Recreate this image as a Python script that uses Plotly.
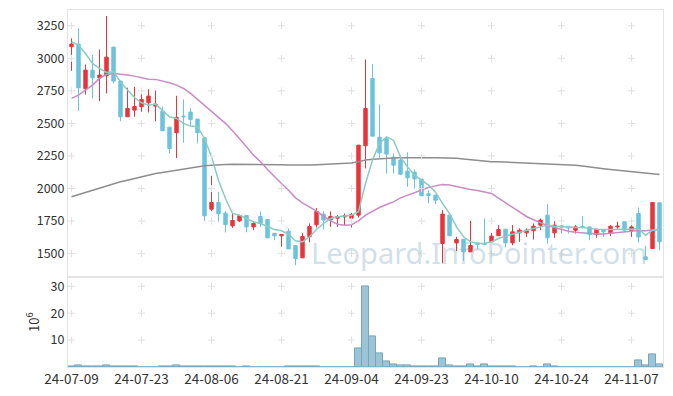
import plotly.graph_objects as go
import pandas as pd

# ---- data ----
dates = list(pd.bdate_range("2024-07-09", "2024-11-13").strftime("%Y-%m-%d"))
holidays = ["2024-08-15", "2024-09-16", "2024-09-17", "2024-09-18",
            "2024-10-01", "2024-10-03", "2024-10-09"]
dates = [d for d in dates if d not in holidays]

open_ = [3089, 3109, 2766, 2909, 2850, 2866, 3086, 2825, 2551, 2602,
         2628, 2658, 2633, 2594, 2471, 2428, 2556, 2587, 2533, 2389,
         1841, 1892, 1810, 1713, 1751, 1792, 1705, 1785, 1762, 1656,
         1636, 1672, 1562, 1467, 1629, 1721, 1803, 1759, 1772, 1782,
         1772, 1795, 2328, 2845, 2394, 2382, 2241, 2218, 2133, 2126,
         2072, 1959, 1949, 1577, 1795, 1582, 1610, 1513, 1582, 1580,
         1590, 1637, 1687, 1582, 1659, 1659, 1675, 1718, 1795, 1659,
         1713, 1705, 1680, 1710, 1705, 1646, 1685, 1659, 1705, 1744,
         1675, 1808, 1475, 1539, 1890]
high = [3153, 3230, 2953, 3025, 3068, 3324, 3086, 2825, 2774, 2781,
        2768, 2763, 2753, 2628, 2471, 2712, 2684, 2615, 2533, 2389,
        2097, 1974, 1826, 1803, 1798, 1792, 1741, 1823, 1762, 1656,
        1646, 1693, 1562, 1659, 1731, 1849, 1826, 1823, 1795, 1808,
        1813, 2333, 2991, 2955, 2645, 2397, 2269, 2244, 2277, 2146,
        2072, 1987, 1949, 1833, 1795, 1629, 1610, 1751, 1582, 1769,
        1659, 1718, 1687, 1718, 1693, 1693, 1731, 1769, 1880, 1749,
        1718, 1705, 1718, 1787, 1705, 1687, 1685, 1718, 1744, 1744,
        1718, 1854, 1560, 1892, 1890]
low = [2904, 2594, 2722, 2692, 2671, 2730, 2807, 2517, 2551, 2551,
       2589, 2584, 2517, 2443, 2269, 2233, 2351, 2487, 2346, 1751,
       1826, 1744, 1662, 1698, 1741, 1664, 1680, 1705, 1621, 1603,
       1552, 1536, 1411, 1467, 1587, 1700, 1685, 1705, 1705, 1718,
       1700, 1777, 2154, 2402, 2230, 2115, 2115, 2102, 2013, 2000,
       1944, 1885, 1880, 1424, 1636, 1518, 1444, 1513, 1531, 1572,
       1590, 1637, 1547, 1564, 1590, 1628, 1608, 1680, 1577, 1621,
       1654, 1654, 1654, 1693, 1603, 1621, 1628, 1634, 1685, 1667,
       1628, 1585, 1449, 1539, 1526]
close = [3109, 2774, 2909, 2850, 2871, 3009, 2825, 2551, 2615, 2630,
         2684, 2710, 2648, 2443, 2307, 2546, 2551, 2530, 2428, 1790,
         1892, 1805, 1723, 1754, 1792, 1705, 1731, 1731, 1621, 1636,
         1646, 1536, 1462, 1631, 1708, 1823, 1757, 1785, 1785, 1790,
         1798, 2333, 2615, 2402, 2274, 2264, 2179, 2110, 2082, 2074,
         1944, 1946, 1910, 1803, 1636, 1608, 1513, 1562, 1570, 1572,
         1634, 1685, 1582, 1667, 1680, 1680, 1710, 1757, 1621, 1718,
         1705, 1698, 1705, 1705, 1646, 1687, 1667, 1710, 1710, 1680,
         1705, 1628, 1454, 1892, 1590]
ma5 = [3127, 3101, 3037, 2961, 2922, 2891, 2896, 2820, 2756, 2699,
       2658, 2640, 2648, 2602, 2551, 2538, 2500, 2479, 2474, 2384,
       2243, 2064, 1923, 1808, 1795, 1769, 1744, 1731, 1705, 1685,
       1675, 1649, 1598, 1590, 1629, 1685, 1731, 1769, 1782, 1787,
       1795, 1821, 2038, 2218, 2346, 2397, 2371, 2243, 2166, 2102,
       2064, 2026, 1974, 1885, 1808, 1705, 1629, 1590, 1577, 1577,
       1590, 1616, 1634, 1649, 1667, 1680, 1693, 1705, 1718, 1710,
       1705, 1700, 1700, 1700, 1693, 1687, 1685, 1687, 1687, 1687,
       1687, 1693, 1641, 1680, 1685]
ma20 = [2692, 2717, 2756, 2794, 2845, 2876, 2884, 2879, 2871, 2863,
        2850, 2840, 2838, 2827, 2812, 2794, 2768, 2730, 2684, 2633,
        2589, 2546, 2500, 2443, 2384, 2320, 2256, 2205, 2146, 2090,
        2038, 1987, 1928, 1890, 1859, 1826, 1787, 1751, 1726, 1718,
        1722, 1751, 1795, 1826, 1854, 1877, 1897, 1928, 1949, 1969,
        1987, 2008, 2020, 2031, 2026, 2013, 2000, 1992, 1985, 1974,
        1962, 1925, 1890, 1850, 1815, 1785, 1760, 1735, 1715, 1700,
        1685, 1672, 1663, 1657, 1652, 1650, 1651, 1656, 1662, 1668,
        1675, 1678, 1676, 1680, 1686]
ma_long = [1936, 1953, 1970, 1987, 2004, 2021, 2038, 2051, 2064, 2077,
           2090, 2103, 2115, 2123, 2132, 2141, 2149, 2158, 2166, 2174,
           2178, 2183, 2185, 2187, 2187, 2186, 2185, 2185, 2184, 2183,
           2182, 2181, 2180, 2179, 2181, 2183, 2185, 2186, 2187, 2191,
           2195, 2205, 2218, 2225, 2230, 2233, 2235, 2237, 2238, 2238,
           2237, 2237, 2236, 2236, 2236, 2232, 2226, 2220, 2214, 2210,
           2206, 2205, 2203, 2201, 2199, 2197, 2195, 2193, 2191, 2189,
           2187, 2184, 2179, 2172, 2164, 2158, 2152, 2146, 2140, 2134,
           2129, 2122, 2115, 2111, 2107]
volume_m = [0.2, 0.6, 0.2, 0.2, 0.2, 0.6, 0.2, 0.2, 0.2, 0.2,
            0.03, 0.03, 0.03, 0.2, 0.2, 0.6, 0.2, 0.2, 0.2, 0.2,
            0.2, 0.2, 0.2, 0.2, 0.03, 0.2, 0.03, 0.03, 0.03, 0.03,
            0.03, 0.2, 0.2, 0.2, 0.2, 0.2, 0.03, 0.03, 0.03, 0.03,
            0.03, 6.8, 29.9, 11.4, 4.9, 2.1, 0.9, 0.5, 0.5, 0.15,
            0.15, 0.15, 0.15, 3.1, 0.5, 0.2, 0.2, 0.9, 0.1, 0.9,
            0.2, 0.2, 0.2, 0.2, 0.03, 0.03, 0.15, 0.03, 0.9, 0.3,
            0.03, 0.03, 0.03, 0.03, 0.03, 0.03, 0.03, 0.03, 0.03, 0.03,
            0.03, 2.5, 0.5, 4.6, 0.9]

tick_dates = dates[::10]
tick_labels = [d[2:] for d in tick_dates]
price_ticks = [1500, 1750, 2000, 2250, 2500, 2750, 3000, 3250]
vol_ticks = [10, 20, 30]

FONT = "Noto Sans CJK KR"
UP, DOWN = "#e8343b", "#6cc3dc"
GRID = "#e0e0e0"
FRAME = "#e4e4e4"

fig = go.Figure()

fig.add_trace(go.Scatter(x=dates, y=ma_long, mode="lines",
                         line=dict(color="#8e8e8e", width=1.5),
                         showlegend=False, xaxis="x", yaxis="y"))
fig.add_trace(go.Scatter(x=dates, y=ma20, mode="lines",
                         line=dict(color="#c98cc4", width=1.5),
                         showlegend=False, xaxis="x", yaxis="y"))
fig.add_trace(go.Candlestick(
    x=dates, open=open_, high=high, low=low, close=close,
    increasing=dict(line=dict(color=UP, width=1), fillcolor=UP),
    decreasing=dict(line=dict(color=DOWN, width=1), fillcolor=DOWN),
    whiskerwidth=0, showlegend=False, xaxis="x", yaxis="y"))
fig.add_trace(go.Scatter(x=dates, y=ma5, mode="lines",
                         line=dict(color="#8ccbc2", width=1.5),
                         showlegend=False, xaxis="x", yaxis="y"))

fig.add_trace(go.Bar(x=dates, y=volume_m,
                     marker=dict(color="#9cc4d5",
                                 line=dict(color="#72a7bd", width=1)),
                     width=1.0, showlegend=False, xaxis="x2", yaxis="y2"))

# grid "+" marks at tick intersections
fig.add_trace(go.Scatter(
    x=[d for d in tick_dates for _ in price_ticks],
    y=[p for _ in tick_dates for p in price_ticks],
    mode="markers", marker=dict(symbol="cross-thin", size=5,
                                line=dict(color=GRID, width=1)),
    hoverinfo="skip", showlegend=False, xaxis="x", yaxis="y"))
fig.add_trace(go.Scatter(
    x=[d for d in tick_dates for _ in vol_ticks],
    y=[v for _ in tick_dates for v in vol_ticks],
    mode="markers", marker=dict(symbol="cross-thin", size=5,
                                line=dict(color=GRID, width=1)),
    hoverinfo="skip", showlegend=False, xaxis="x2", yaxis="y2"))

split = 0.251
fig.update_layout(
    width=673, height=396,
    margin=dict(l=68, r=10, t=10, b=29, autoexpand=False),
    paper_bgcolor="white", plot_bgcolor="white",
    font=dict(family=FONT, size=13, color="#333333"),
    bargap=0,
    xaxis=dict(type="category", categoryorder="array", categoryarray=dates,
               domain=[0, 1], anchor="y",
               range=[-0.5, len(dates) - 0.5],
               rangeslider=dict(visible=False),
               showticklabels=False, showgrid=False,
               showline=True, linecolor=FRAME, mirror=True, ticks=""),
    xaxis2=dict(type="category", categoryorder="array", categoryarray=dates,
                domain=[0, 1], anchor="y2", matches="x",
                range=[-0.5, len(dates) - 0.5],
                tickvals=tick_dates, ticktext=tick_labels, tickangle=0,
                showgrid=False, showline=True, linecolor=FRAME, mirror=True,
                ticks="", tickfont=dict(size=13.5, color="#333333")),
    yaxis=dict(domain=[split, 1], anchor="x", range=[1317, 3371],
               tickvals=price_ticks, showgrid=False, zeroline=False,
               showline=True, linecolor=FRAME, mirror=True, ticks="",
               tickfont=dict(size=12.5, color="#333333")),
    yaxis2=dict(domain=[0, split], anchor="x2", range=[0, 33.3],
                tickvals=vol_ticks, showgrid=False, zeroline=False,
                showline=True, linecolor=FRAME, mirror=True, ticks="",
                tickfont=dict(size=12.5, color="#333333"),
                title=dict(text="10<sup>6</sup>", standoff=8,
                           font=dict(size=13, color="#333333"))),
    annotations=[dict(text="Leopard.InfoPointer.com", xref="paper", yref="paper",
                      x=0.692, y=0.32, xanchor="center", yanchor="middle",
                      showarrow=False,
                      font=dict(family="Noto Sans", size=29,
                                color="rgba(150,186,206,0.45)"))],
)

fig.write_html("out.html",
               config={"displayModeBar": False},
               post_script="document.body.style.margin='0px';"
                           "document.body.style.overflow='hidden';")
